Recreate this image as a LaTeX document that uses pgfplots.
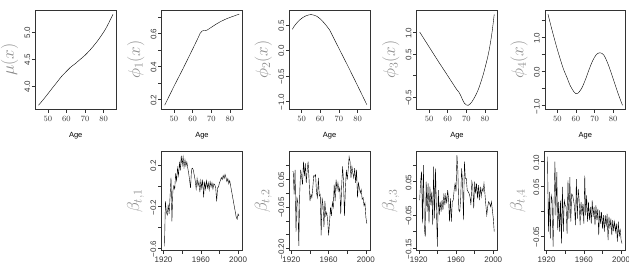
\documentclass[border=0pt]{standalone}
\usepackage{fontspec}
\setmainfont{Liberation Sans}
\usepackage{pgfplots}
\pgfplotsset{compat=1.18}
\definecolor{labgray}{gray}{0.55}
\definecolor{axgray}{gray}{0.2}
\pgfplotsset{
 rpanel/.style={
  scale only axis, width=80.5pt, anchor=south west,
  tick pos=left, tick align=outside, major tick length=3.5pt,
  axis line style={line width=0.6pt, axgray},
  every tick/.style={axgray, line width=0.5pt},
  tick label style={font=\fontsize{8}{9}\selectfont, text=axgray},
  yticklabel style={rotate=90, anchor=south, inner sep=1.5pt, xshift=-0.8pt},
  xticklabel style={inner sep=1.5pt, yshift=-2pt},
  every axis y label/.style={at={(rel axis cs:0,0.5)}, xshift=-26pt, rotate=90, anchor=center, font=\fontsize{17}{18}\selectfont, text=labgray},
  every axis x label/.style={at={(rel axis cs:0.5,0)}, yshift=-27pt, anchor=center, font=\fontsize{7.5}{8}\selectfont},
  no markers,
  cycle list={{black, line width=0.9pt, line join=round}},
 },
 toprow/.style={rpanel, height=98.5pt, xmin=43.4, xmax=86.6, xtick={50,60,70,80}, xlabel={Age}},
 botrow/.style={rpanel, height=98.3pt, xmin=1917.8, xmax=2004.2, xtick={1920,1940,1960,1980,2000}, xticklabels={1920,{},1960,{},2000}},
}
\begin{document}
\begin{tikzpicture}
\path[use as bounding box] (0,0) rectangle (629pt,269pt);
% mu
\begin{axis}[toprow, at={(35.5pt,160pt)}, ymin=3.57, ymax=5.40, ytick={4.0,4.5,5.0}, yticklabels={4.0,4.5,5.0}, ylabel={$\mu(x)$}]
\addplot+[smooth] coordinates {(45,3.64) (47,3.72) (50,3.85) (52,3.94) (55,4.07) (57,4.16) (60,4.27) (62,4.34) (65,4.42) (67,4.48) (70,4.57) (72,4.64) (75,4.76) (77,4.85) (80,5.00) (82,5.12) (85,5.33)};
\end{axis}
% phi1
\begin{axis}[toprow, at={(161.7pt,160pt)}, ymin=0.142, ymax=0.739, ytick={0.2,0.3,0.4,0.5,0.6,0.7}, yticklabels={0.2,{},0.4,{},0.6,{}}, ylabel={$\phi_1(x)$}]
\addplot coordinates {(45,0.165) (50,0.28) (55,0.39) (60,0.505) (63,0.575) (64,0.600) (65,0.614) (66,0.618) (67,0.617) (68,0.622) (70,0.637) (72,0.652) (75,0.672) (78,0.688) (80,0.697) (83,0.709) (85,0.717)};
\end{axis}
% phi2
\begin{axis}[toprow, at={(289.3pt,160pt)}, ymin=-1.15, ymax=0.78, ytick={-1.0,-0.5,0.0,0.5}, yticklabels={−1.0,−0.5,0.0,0.5}, ylabel={$\phi_2(x)$}]
\addplot+[smooth] coordinates {(45,0.41) (46,0.47) (48,0.56) (50,0.625) (52,0.67) (54,0.695) (55,0.70) (56,0.695) (58,0.67) (60,0.615) (62,0.54) (64,0.45) (65,0.40) (66,0.33) (70,0.04) (75,-0.32) (80,-0.69) (85,-1.065)};
\end{axis}
% phi3
\begin{axis}[toprow, at={(416.7pt,160pt)}, ymin=-0.775, ymax=1.51, ytick={-0.5,0.0,0.5,1.0}, yticklabels={−0.5,{},0.5,1.0}, ylabel={$\phi_3(x)$}]
\addplot+[smooth] coordinates {(45,1.01) (50,0.67) (55,0.33) (60,0.0) (63,-0.2) (65,-0.33) (66,-0.38) (67,-0.46) (68,-0.56) (69,-0.64) (70,-0.68) (71,-0.69) (72,-0.66) (73,-0.61) (74,-0.54) (75,-0.46) (76,-0.37) (77,-0.26) (78,-0.13) (79,0.01) (80,0.17) (81,0.34) (82,0.53) (83,0.77) (84,1.06) (85,1.42)};
\end{axis}
% phi4
\begin{axis}[toprow, at={(545pt,160pt)}, ymin=-1.097, ymax=1.787, ytick={-1.0,-0.5,0.0,0.5,1.0,1.5}, yticklabels={−1.0,{},0.0,{},1.0,{}}, ylabel={$\phi_4(x)$}]
\addplot+[smooth] coordinates {(45,1.68) (47,1.25) (50,0.65) (53,0.12) (55,-0.15) (57,-0.42) (59,-0.6) (60,-0.65) (61,-0.64) (63,-0.5) (65,-0.25) (67,0.05) (69,0.32) (71,0.50) (73,0.55) (75,0.48) (77,0.25) (79,-0.05) (81,-0.38) (83,-0.70) (85,-0.99)};
\end{axis}
% beta1
\begin{axis}[botrow, at={(161.5pt,19pt)}, ymin=-0.616, ymax=0.328, ytick={-0.6,-0.4,-0.2,0,0.2}, yticklabels={−0.6,{},−0.2,{},0.2}, ylabel={$\beta_{t,1}$}]
\addplot coordinates {(1921,-0.58) (1922,-0.15) (1923,-0.25) (1924,-0.28) (1925,-0.18) (1926,-0.27) (1927,-0.10) (1928,0.08) (1929,-0.34) (1930,-0.05) (1931,0.00) (1932,-0.03) (1933,0.12) (1934,0.05) (1935,0.17) (1936,0.10) (1937,0.22) (1938,0.15) (1939,0.29) (1940,0.20) (1941,0.28) (1942,0.18) (1943,0.25) (1944,0.19) (1945,0.23) (1946,0.17) (1947,0.12) (1948,0.05) (1949,-0.02) (1950,0.16) (1951,0.17) (1952,0.15) (1953,0.10) (1954,0.05) (1955,-0.03) (1956,0.07) (1957,0.00) (1958,0.04) (1959,-0.06) (1960,0.05) (1961,-0.02) (1962,0.06) (1963,-0.11) (1964,0.04) (1965,-0.03) (1966,0.05) (1967,-0.02) (1968,0.03) (1969,-0.04) (1970,0.04) (1971,-0.01) (1972,0.03) (1973,-0.03) (1974,0.02) (1975,0.01) (1976,-0.02) (1977,-0.15) (1978,-0.02) (1979,-0.01) (1980,0.03) (1981,0.05) (1982,0.08) (1983,0.06) (1984,0.10) (1985,0.07) (1986,0.11) (1987,0.08) (1988,0.04) (1989,0.07) (1990,0.02) (1991,0.05) (1992,0.00) (1993,-0.05) (1994,-0.10) (1995,-0.15) (1996,-0.20) (1997,-0.25) (1998,-0.30) (1999,-0.32) (2000,-0.27) (2001,-0.29)};
\end{axis}
% beta2
\begin{axis}[botrow, at={(289.3pt,19pt)}, ymin=-0.205, ymax=0.148, ytick={-0.2,-0.15,-0.1,-0.05,0,0.05,0.1}, yticklabels={−0.20,{},{},−0.05,{},0.05,{}}, ylabel={$\beta_{t,2}$}]
\addplot coordinates {(1921,0.077) (1922,0.077) (1923,-0.005) (1924,0.083) (1925,-0.14) (1926,-0.017) (1927,-0.035) (1928,-0.19) (1929,0.0) (1930,0.083) (1931,0.06) (1932,0.03) (1933,0.112) (1934,0.06) (1935,0.106) (1936,0.036) (1937,0.083) (1938,0.112) (1939,0.048) (1940,-0.029) (1941,-0.005) (1942,-0.017) (1943,0.018) (1944,0.062) (1945,0.06) (1946,0.065) (1947,0.0) (1948,-0.017) (1949,0.054) (1950,-0.011) (1951,-0.005) (1952,-0.152) (1953,-0.017) (1954,-0.046) (1955,-0.123) (1956,-0.029) (1957,-0.082) (1958,-0.07) (1959,-0.1) (1960,-0.152) (1961,-0.105) (1962,-0.052) (1963,-0.082) (1964,-0.035) (1965,-0.052) (1966,0.03) (1967,-0.029) (1968,0.048) (1969,0.012) (1970,0.036) (1971,0.006) (1972,0.018) (1973,-0.076) (1974,0.024) (1975,0.095) (1976,0.042) (1977,-0.082) (1978,0.012) (1979,0.083) (1980,0.048) (1981,0.083) (1982,0.13) (1983,0.112) (1984,0.054) (1985,0.095) (1986,0.071) (1987,0.054) (1988,0.089) (1989,0.036) (1990,0.083) (1991,-0.017) (1992,0.036) (1993,0.018) (1994,0.0) (1995,0.012) (1996,-0.023) (1997,-0.017) (1998,-0.046) (1999,-0.035) (2000,-0.088) (2001,-0.11)};
\end{axis}
% beta3
\begin{axis}[botrow, at={(416.7pt,19pt)}, ymin=-0.155, ymax=0.14, ytick={-0.15,-0.1,-0.05,0,0.05,0.1}, yticklabels={−0.15,{},−0.05,{},0.05,{}}, ylabel={$\beta_{t,3}$}]
\addplot coordinates {(1921,-0.005) (1922,0.05) (1923,0.08) (1924,-0.075) (1925,0.1) (1926,-0.09) (1927,-0.115) (1928,0.05) (1929,-0.04) (1930,0.045) (1931,-0.075) (1932,0.035) (1933,-0.02) (1934,0.02) (1935,-0.08) (1936,0.095) (1937,-0.06) (1938,0.09) (1939,-0.035) (1940,-0.145) (1941,0.025) (1942,-0.05) (1943,-0.01) (1944,-0.04) (1945,-0.005) (1946,-0.035) (1947,0.015) (1948,-0.02) (1949,0.01) (1950,-0.015) (1951,0.025) (1952,0.0) (1953,-0.07) (1954,0.0) (1955,-0.07) (1956,-0.01) (1957,-0.005) (1958,0.025) (1959,0.045) (1960,0.02) (1961,0.13) (1962,0.08) (1963,-0.035) (1964,-0.04) (1965,0.0) (1966,0.09) (1967,0.05) (1968,-0.065) (1969,0.11) (1970,0.06) (1971,0.06) (1972,0.025) (1973,0.02) (1974,0.015) (1975,0.005) (1976,-0.02) (1977,0.05) (1978,0.035) (1979,-0.03) (1980,0.05) (1981,0.015) (1982,0.045) (1983,0.0) (1984,0.04) (1985,-0.005) (1986,0.035) (1987,0.005) (1988,0.03) (1989,0.02) (1990,0.045) (1991,0.015) (1992,-0.02) (1993,-0.05) (1994,-0.025) (1995,-0.01) (1996,-0.015) (1997,-0.025) (1998,-0.01) (1999,-0.035) (2000,-0.06) (2001,-0.1)};
\end{axis}
% beta4
\begin{axis}[botrow, at={(544.5pt,19pt)}, ymin=-0.078, ymax=0.12, ytick={-0.05,0,0.05,0.1}, yticklabels={−0.05,{},0.05,0.10}, ylabel={$\beta_{t,4}$}]
\addplot coordinates {(1921,0.11) (1922,-0.041) (1923,0.039) (1924,-0.055) (1925,0.032) (1926,0.022) (1927,-0.071) (1928,0.012) (1929,0.1) (1930,-0.008) (1931,0.079) (1932,-0.038) (1933,0.019) (1934,-0.041) (1935,0.022) (1936,-0.065) (1937,0.049) (1938,-0.041) (1939,0.022) (1940,0.012) (1941,0.009) (1942,-0.045) (1943,0.062) (1944,-0.015) (1945,0.069) (1946,-0.021) (1947,0.035) (1948,0.032) (1949,0.022) (1950,0.009) (1951,-0.028) (1952,0.065) (1953,-0.015) (1954,0.045) (1955,0.022) (1956,-0.028) (1957,0.019) (1958,-0.008) (1959,0.015) (1960,-0.025) (1961,0.072) (1962,-0.008) (1963,0.032) (1964,-0.021) (1965,0.019) (1966,-0.018) (1967,0.009) (1968,-0.025) (1969,0.022) (1970,-0.011) (1971,0.009) (1972,-0.028) (1973,0.012) (1974,-0.018) (1975,0.005) (1976,-0.048) (1977,0.002) (1978,-0.025) (1979,-0.001) (1980,-0.035) (1981,-0.008) (1982,-0.041) (1983,-0.008) (1984,-0.031) (1985,-0.005) (1986,-0.058) (1987,-0.011) (1988,-0.035) (1989,-0.015) (1990,-0.048) (1991,-0.018) (1992,-0.038) (1993,-0.021) (1994,-0.041) (1995,-0.025) (1996,-0.061) (1997,-0.021) (1998,-0.051) (1999,-0.035) (2000,-0.058) (2001,-0.065)};
\end{axis}
\end{tikzpicture}
\end{document}
